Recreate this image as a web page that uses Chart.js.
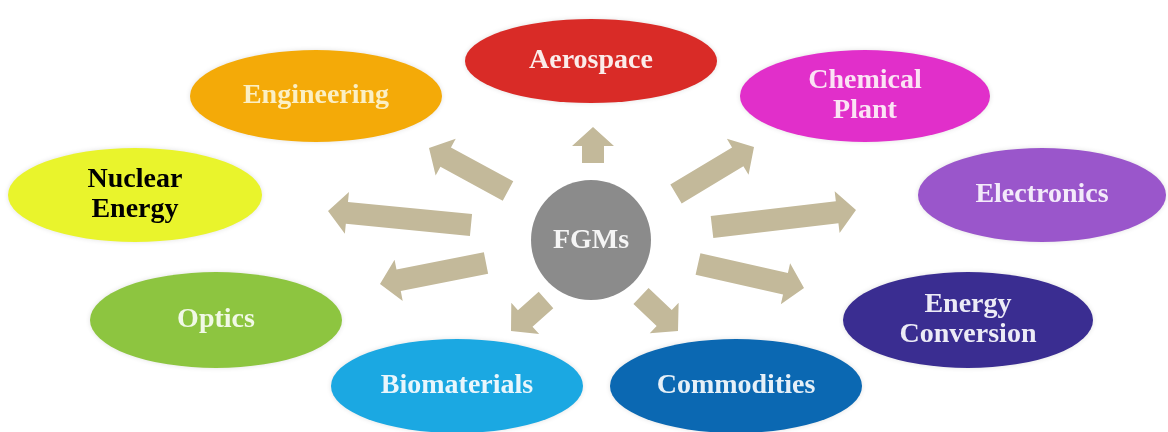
<!DOCTYPE html>
<html>
<head>
<meta charset="utf-8">
<script src="https://cdn.jsdelivr.net/npm/chart.js@4.4.1/dist/chart.umd.min.js"></script>
<style>
  html, body { margin: 0; padding: 0; background: #fff; }
  #wrap { width: 1168px; height: 432px; }
</style>
</head>
<body>
<div id="wrap"><canvas id="chart" width="1168" height="432"></canvas></div>
<script>
// Application areas of FGMs, placed in diagram units (x 0..1168, y 0..432 downwards)
var areas = [
  ['Aerospace'],
  ['Engineering'],
  ['Chemical', 'Plant'],
  ['Nuclear', 'Energy'],
  ['Electronics'],
  ['Optics'],
  ['Energy', 'Conversion'],
  ['Biomaterials'],
  ['Commodities']
];
var areaX = [591, 316, 865, 135, 1042, 216, 968, 457, 736];
var areaY = [61, 96, 96, 195, 195, 320, 320, 386, 386];

// arrows from the hub towards each area (tail -> tip)
var arrowTailX = [593, 508, 676, 471, 712, 486, 698, 546, 641];
var arrowTailY = [163, 191, 194, 225, 227, 263, 264, 300, 296];
var arrowTipX = [593, 429, 754, 328, 856, 380, 804, 511, 678];
var arrowTipY = [127, 148, 147, 211, 210, 284, 288, 331, 331];

var hubLabel = 'FGMs';
var hubX = [591];
var hubY = [240];

// Styles
var fillColors = ['#d92b27', '#f4aa08', '#e12fca', '#e9f42c', '#9a56cb', '#8dc540', '#3a2d91', '#1ba8e2', '#0b68b2'];
var textColors = ['#fbecea', '#fbefc4', '#fbe3f4', '#000000', '#f3eafa', '#f1f9e6', '#ecebf6', '#e9f6fc', '#e6f0f8'];
var radiusX = [126, 126, 125, 127, 124, 126, 125, 126, 126];
var radiusY = [42, 46, 46, 47, 47, 48, 48, 47, 47];
var hubRadius = 60;
var hubColor = '#8b8b8b';
var arrowColor = '#c3b99a';
var labelFont = 'bold 28px "Liberation Serif", "Times New Roman", serif';

function drawArrow(ctx, tx, ty, px, py) {
  var dx = px - tx, dy = py - ty;
  var len = Math.sqrt(dx * dx + dy * dy);
  var ux = dx / len, uy = dy / len;
  var nx = -uy, ny = ux;
  var w = 11, h = 21, head = 19;
  var bx = px - ux * head, by = py - uy * head;
  ctx.beginPath();
  ctx.moveTo(tx + nx * w, ty + ny * w);
  ctx.lineTo(bx + nx * w, by + ny * w);
  ctx.lineTo(bx + nx * h, by + ny * h);
  ctx.lineTo(px, py);
  ctx.lineTo(bx - nx * h, by - ny * h);
  ctx.lineTo(bx - nx * w, by - ny * w);
  ctx.lineTo(tx - nx * w, ty - ny * w);
  ctx.closePath();
  ctx.fill();
}

var diagramPlugin = {
  id: 'diagram',
  afterDatasetsDraw: function(chart) {
    var ctx = chart.ctx;
    var xs = chart.scales.x, ys = chart.scales.y;
    ctx.save();

    // arrows
    ctx.fillStyle = arrowColor;
    for (var i = 0; i < arrowTailX.length; ++i) {
      drawArrow(ctx,
        xs.getPixelForValue(arrowTailX[i]), ys.getPixelForValue(arrowTailY[i]),
        xs.getPixelForValue(arrowTipX[i]), ys.getPixelForValue(arrowTipY[i]));
    }

    // area ellipses
    var meta = chart.getDatasetMeta(0);
    for (var j = 0; j < meta.data.length; ++j) {
      var pt = meta.data[j];
      var rx = xs.getPixelForValue(areaX[j] + radiusX[j]) - pt.x;
      var ry = ys.getPixelForValue(areaY[j] + radiusY[j]) - pt.y;
      ctx.shadowColor = 'rgba(0,0,0,0.12)';
      ctx.shadowBlur = 5;
      ctx.fillStyle = fillColors[j];
      ctx.beginPath();
      ctx.ellipse(pt.x, pt.y, Math.abs(rx), Math.abs(ry), 0, 0, Math.PI * 2);
      ctx.fill();
      ctx.shadowBlur = 0;
      ctx.shadowColor = 'transparent';

      ctx.fillStyle = textColors[j];
      ctx.font = labelFont;
      ctx.textAlign = 'center';
      ctx.textBaseline = 'middle';
      var lines = areas[j];
      var lh = 30;
      var y0 = pt.y - (lines.length - 1) * lh / 2;
      for (var k = 0; k < lines.length; ++k) {
        ctx.fillText(lines[k], pt.x, y0 + k * lh);
      }
    }

    // hub circle
    var hm = chart.getDatasetMeta(1).data[0];
    var hr = xs.getPixelForValue(hubX[0] + hubRadius) - hm.x;
    ctx.fillStyle = hubColor;
    ctx.beginPath();
    ctx.arc(hm.x, hm.y, hr, 0, Math.PI * 2);
    ctx.fill();
    ctx.fillStyle = '#f5f5f5';
    ctx.font = labelFont;
    ctx.textAlign = 'center';
    ctx.textBaseline = 'middle';
    ctx.fillText(hubLabel, hm.x, hm.y + 1);

    ctx.restore();
  }
};

var chart = new Chart(document.getElementById('chart'), {
  type: 'scatter',
  data: {
    datasets: [
      {
        label: 'Areas',
        data: areaX.map(function(x, i) { return { x: x, y: areaY[i] }; }),
        pointRadius: 0
      },
      {
        label: 'Hub',
        data: hubX.map(function(x, i) { return { x: x, y: hubY[i] }; }),
        pointRadius: 0
      }
    ]
  },
  options: {
    responsive: false,
    animation: false,
    devicePixelRatio: 1,
    layout: { padding: 0 },
    plugins: {
      legend: { display: false },
      tooltip: { enabled: false }
    },
    scales: {
      x: { type: 'linear', min: 0, max: 1168, display: false },
      y: { type: 'linear', min: 0, max: 432, reverse: true, display: false }
    }
  },
  plugins: [diagramPlugin]
});
</script>
</body>
</html>
